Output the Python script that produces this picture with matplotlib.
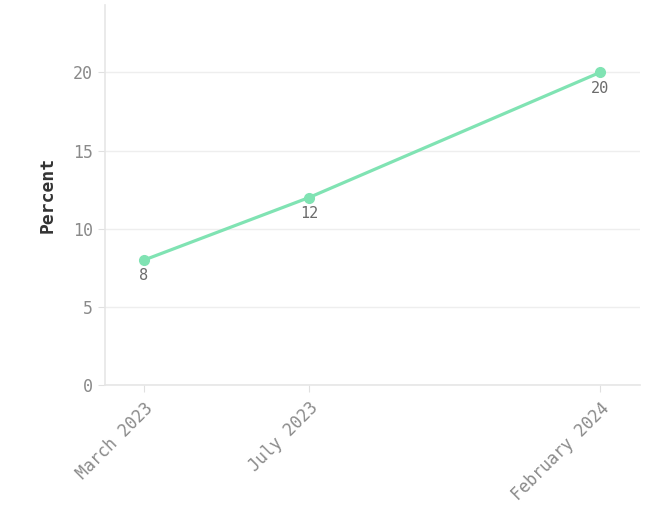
import datetime as dt
import matplotlib
matplotlib.use('Agg')
import matplotlib.pyplot as plt
import matplotlib.dates as mdates

dates = [dt.date(2023, 3, 1), dt.date(2023, 7, 1), dt.date(2024, 2, 1)]
tick_labels = ['March 2023', 'July 2023', 'February 2024']
values = [8, 12, 20]
yticks = [0, 5, 10, 15, 20]

line_color = '#80e3b3'
grid_color = '#eeeeee'

plt.rcParams['font.family'] = ['DejaVu Sans Mono']

fig = plt.figure(figsize=(6.64, 5.15), dpi=100)
ax = fig.add_axes([0.158, 0.252, 0.806, 0.738])

ax.plot(dates, values, color=line_color, linewidth=2.3, marker='o',
        markersize=7, zorder=3)
for d, v in zip(dates, values):
    ax.annotate(str(v), (d, v), xytext=(0, -6), textcoords='offset points',
                ha='center', va='top', fontsize=11, color='#6b6b6b')

ax.set_ylim(0, 24.3)
ax.set_xlim(mdates.date2num(dt.date(2023, 3, 1)) - 28.8,
            mdates.date2num(dt.date(2024, 2, 1)) + 29.6)
ax.set_yticks(yticks)
ax.set_xticks(dates)
ax.set_xticklabels(tick_labels, rotation=45, ha='right', rotation_mode='anchor')

ax.grid(axis='y', color=grid_color, linewidth=1)
ax.set_axisbelow(True)
for s in ['top', 'right']:
    ax.spines[s].set_visible(False)
for s in ['left', 'bottom']:
    ax.spines[s].set_color('#e6e6e6')
    ax.spines[s].set_linewidth(1.2)
ax.tick_params(axis='both', colors='#e0e0e0', labelcolor='#8a8a8a',
               labelsize=12, length=5)
ax.tick_params(axis='x', pad=5)

ax.set_ylabel('Percent', fontsize=13, fontweight='bold', color='#333333',
              labelpad=12)

fig.savefig('out.png', dpi=100)
